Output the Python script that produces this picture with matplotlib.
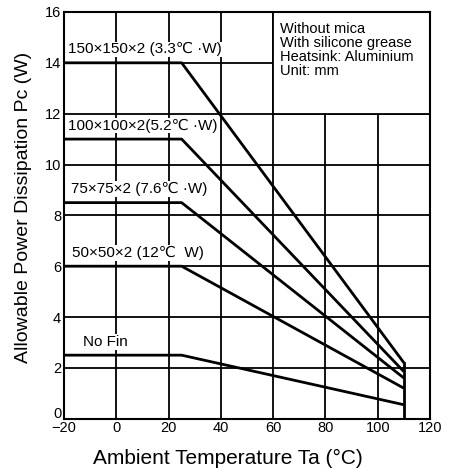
import matplotlib
matplotlib.use("Agg")
import matplotlib.pyplot as plt
from matplotlib.patches import Rectangle
from matplotlib.transforms import ScaledTranslation

plt.rcParams['font.family'] = ['Liberation Sans', 'DejaVu Sans']

# Data
curve_labels = ["150×150×2 (3.3℃ ·W)", "100×100×2(5.2℃ ·W)", "75×75×2 (7.6℃ ·W)",
                "50×50×2 (12℃  W)", "No Fin"]
curve_temps = [
    [-20, 25, 110],
    [-20, 25, 110],
    [-20, 25, 110],
    [-20, 25, 110],
    [-20, 25, 110],
]
curve_pc = [
    [14.0, 14.0, 2.2],
    [11.0, 11.0, 1.85],
    [8.5, 8.5, 1.6],
    [6.0, 6.0, 1.2],
    [2.5, 2.5, 0.55],
]
label_pos = [(-18.5, 14.25), (-18.5, 11.25), (-17.3, 8.75), (-17.0, 6.25), (-12.7, 2.75)]
cutoff_temp = 110
x_ticks = [-20, 0, 20, 40, 60, 80, 100, 120]
x_ticklabels = ["−20", "0", "20", "40", "60", "80", "100", "120"]
y_ticks = [0, 2, 4, 6, 8, 10, 12, 14, 16]
note_lines = ["Without mica", "With silicone grease", "Heatsink: Aluminium", "Unit: mm"]

fig = plt.figure(figsize=(4.58, 4.68), dpi=100)
ax = fig.add_axes([0.1397, 0.1053, 0.7993, 0.8691])
ax.set_xlim(-20, 120)
ax.set_ylim(0, 16)
ax.set_xticks(x_ticks)
ax.set_xticklabels(x_ticklabels)
ax.set_yticks(y_ticks)
ax.tick_params(length=0, labelsize=10.5)
ax.tick_params(axis='x', pad=2)
ax.tick_params(axis='y', pad=2)
ax.grid(True, color='black', lw=1.3)
ax.set_axisbelow(True)
for s in ax.spines.values():
    s.set_linewidth(1.5)

# raise the "0" y tick label slightly (as in the reference)
ylabels = ax.get_yticklabels()
ylabels[0].set_transform(ylabels[0].get_transform() +
                         ScaledTranslation(0, 6 / 100, fig.dpi_scale_trans))

# Notes box covering grid
ax.add_patch(Rectangle((60, 12), 60, 4, facecolor='white', edgecolor='black',
                       lw=1.3, zorder=1.5))
ax.text(62.8, 15.6, "\n".join(note_lines), fontsize=10.5, va='top', ha='left',
        linespacing=1.0, zorder=3)

for t, p, lab, (lx, ly) in zip(curve_temps, curve_pc, curve_labels, label_pos):
    ax.plot(t, p, color='black', lw=2.0, zorder=2, solid_capstyle='butt')
    ax.text(lx, ly, lab, fontsize=11, ha='left', va='bottom', zorder=3,
            bbox=dict(facecolor='white', edgecolor='none', pad=0.5))

# vertical cutoff at max temperature
ax.plot([cutoff_temp, cutoff_temp], [0, max(p[-1] for p in curve_pc)],
        color='black', lw=2.0, zorder=2)

ax.set_xlabel("Ambient Temperature Ta (°C)", fontsize=15, labelpad=7)
ax.xaxis.set_label_coords(0.448, -0.075)
ax.set_ylabel("Allowable Power Dissipation Pc (W)", fontsize=14, labelpad=4)
ax.yaxis.set_label_coords(-0.088, 0.52)

fig.savefig("out.png", dpi=100)
